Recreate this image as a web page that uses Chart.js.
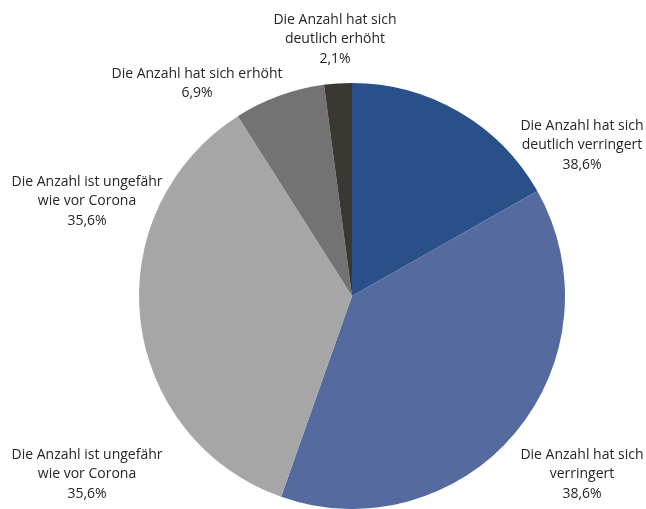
<!DOCTYPE html>
<html lang="de">
<head>
<meta charset="utf-8">
<title>Anzahl im Vergleich zu vor Corona</title>
<script src="https://cdn.jsdelivr.net/npm/chart.js@4/dist/chart.umd.min.js"></script>
<style>
    html, body { margin: 0; padding: 0; background: #ffffff; }
    #wrap { width: 646px; height: 509px; position: relative; }
</style>
</head>
<body>
<div id="wrap"><canvas id="pieChart"></canvas></div>
<script>
// Slices, clockwise from 12 o'clock
const categories = [
    'Die Anzahl hat sich deutlich verringert',
    'Die Anzahl hat sich verringert',
    'Die Anzahl ist ungefähr wie vor Corona',
    'Die Anzahl hat sich erhöht',
    'Die Anzahl hat sich deutlich erhöht'
];
const shares = [16.8, 38.6, 35.6, 6.9, 2.1];
const sliceColors = ['#2A5089', '#556A9F', '#A6A6A6', '#737373', '#3B3833'];

// Label texts as they appear on the chart
const labelTexts = [
    ['Die Anzahl hat sich', 'deutlich erhöht', '2,1%'],
    ['Die Anzahl hat sich erhöht', '6,9%'],
    ['Die Anzahl ist ungefähr', 'wie vor Corona', '35,6%'],
    ['Die Anzahl hat sich', 'deutlich verringert', '38,6%'],
    ['Die Anzahl ist ungefähr', 'wie vor Corona', '35,6%'],
    ['Die Anzahl hat sich', 'verringert', '38,6%']
];

// where each label block sits (center x, first line y)
const labelSpots = [
    { x: 335, y: 20 },
    { x: 197, y: 74 },
    { x: 87, y: 182 },
    { x: 582, y: 126 },
    { x: 87, y: 455 },
    { x: 582, y: 455 }
];

const labelPlugin = {
    id: 'labelPlugin',
    afterDraw(chart) {
        const ctx = chart.ctx;
        ctx.save();
        ctx.font = '14px "Open Sans"';
        ctx.fillStyle = '#262626';
        ctx.textAlign = 'center';
        ctx.textBaseline = 'middle';
        labelTexts.forEach((lines, i) => {
            const spot = labelSpots[i];
            lines.forEach((line, j) => {
                ctx.fillText(line, spot.x, spot.y + j * 19.5);
            });
        });
        ctx.restore();
    }
};

new Chart(document.getElementById('pieChart').getContext('2d'), {
    type: 'pie',
    data: {
        labels: categories,
        datasets: [{
            data: shares,
            backgroundColor: sliceColors,
            borderWidth: 0
        }]
    },
    options: {
        responsive: true,
        maintainAspectRatio: false,
        animation: false,
        layout: {
            padding: { top: 83, bottom: 0, left: 139, right: 81 }
        },
        plugins: {
            legend: { display: false },
            tooltip: { enabled: false }
        }
    },
    plugins: [labelPlugin]
});
</script>
</body>
</html>
